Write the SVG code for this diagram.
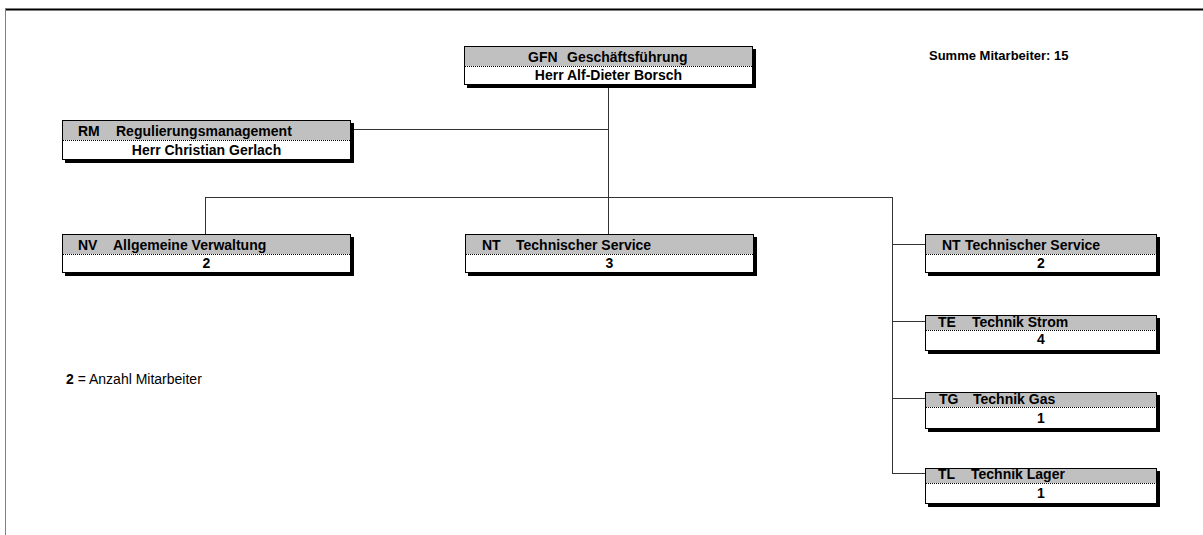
<svg xmlns="http://www.w3.org/2000/svg" width="1203" height="535" viewBox="0 0 1203 535">
<style>
text{font-family:"Liberation Sans",Arial,sans-serif;font-size:14px;font-weight:bold;fill:#000}
.shadow{fill:#000}
.body{fill:#fff;stroke:#000;stroke-width:1}
.head{fill:#c0c0c0}
.sep{stroke:#000;stroke-width:1;stroke-dasharray:1 1}
.c{text-anchor:middle}
.conn line{stroke:#333;stroke-width:1}
.leg{font-weight:normal;font-size:14px}
.sum{font-size:13px}
</style>
<rect width="1203" height="535" fill="#fff"/>
<line x1="5" y1="9.5" x2="1203" y2="9.5" stroke="#000" stroke-width="2"/>
<line x1="5.5" y1="9" x2="5.5" y2="535" stroke="#808080" stroke-width="1"/>

<g id="connectors" class="conn">
<line x1="350" y1="129.5" x2="608.5" y2="129.5"/>
<line x1="608.5" y1="84" x2="608.5" y2="234"/>
<line x1="205.5" y1="197.5" x2="892.5" y2="197.5"/>
<line x1="205.5" y1="197" x2="205.5" y2="234"/>
<line x1="892.5" y1="197" x2="892.5" y2="473.5"/>
<line x1="892" y1="244.5" x2="925" y2="244.5"/>
<line x1="892" y1="321.5" x2="925" y2="321.5"/>
<line x1="892" y1="398.5" x2="925" y2="398.5"/>
<line x1="892" y1="473.5" x2="925" y2="473.5"/>
</g>

<g id="GFN">
<rect class="shadow" x="467" y="49" width="289" height="39"/>
<rect class="body" x="464.5" y="46.5" width="288" height="38"/>
<rect class="head" x="465" y="47" width="287" height="19"/>
<line class="sep" x1="465" y1="66.5" x2="752" y2="66.5"/>
<text x="528" y="62">GFN</text><text x="567" y="62">Geschäftsführung</text>
<text class="c" x="608.5" y="80">Herr Alf-Dieter Borsch</text>
</g>

<g id="RM">
<rect class="shadow" x="65" y="123" width="289" height="40"/>
<rect class="body" x="62.5" y="120.5" width="288" height="39"/>
<rect class="head" x="63" y="121" width="287" height="19"/>
<line class="sep" x1="63" y1="140.5" x2="350" y2="140.5"/>
<text x="78" y="136">RM</text><text x="116" y="136">Regulierungsmanagement</text>
<text class="c" x="206.5" y="155">Herr Christian Gerlach</text>
</g>

<g id="NV">
<rect class="shadow" x="65" y="237" width="289" height="39"/>
<rect class="body" x="62.5" y="234.5" width="288" height="38"/>
<rect class="head" x="63" y="235" width="287" height="19"/>
<line class="sep" x1="63" y1="254.5" x2="350" y2="254.5"/>
<text x="78" y="250">NV</text><text x="113" y="250">Allgemeine Verwaltung</text>
<text class="c" x="206.5" y="268">2</text>
</g>

<g id="NT-mid">
<rect class="shadow" x="468" y="237" width="289" height="39"/>
<rect class="body" x="465.5" y="234.5" width="288" height="38"/>
<rect class="head" x="466" y="235" width="287" height="19"/>
<line class="sep" x1="466" y1="254.5" x2="753" y2="254.5"/>
<text x="482" y="250">NT</text><text x="516" y="250">Technischer Service</text>
<text class="c" x="609.5" y="268">3</text>
</g>

<g id="NT-right">
<rect class="shadow" x="928" y="237" width="232" height="39"/>
<rect class="body" x="925.5" y="234.5" width="231" height="38"/>
<rect class="head" x="926" y="235" width="230" height="19"/>
<line class="sep" x1="926" y1="254.5" x2="1156" y2="254.5"/>
<text x="942" y="250">NT</text><text x="965" y="250">Technischer Service</text>
<text class="c" x="1041" y="268">2</text>
</g>

<g id="TE">
<rect class="shadow" x="928" y="318" width="232" height="36"/>
<rect class="body" x="925.5" y="315.5" width="231" height="35"/>
<rect class="head" x="926" y="316" width="230" height="14"/>
<line class="sep" x1="926" y1="330.5" x2="1156" y2="330.5"/>
<text x="938" y="327">TE</text><text x="972" y="327">Technik Strom</text>
<text class="c" x="1041" y="344">4</text>
</g>

<g id="TG">
<rect class="shadow" x="928" y="395" width="232" height="37"/>
<rect class="body" x="925.5" y="392.5" width="231" height="36"/>
<rect class="head" x="926" y="393" width="230" height="14"/>
<line class="sep" x1="926" y1="407.5" x2="1156" y2="407.5"/>
<text x="939" y="404">TG</text><text x="973" y="404">Technik Gas</text>
<text class="c" x="1041" y="423">1</text>
</g>

<g id="TL">
<rect class="shadow" x="928" y="471" width="232" height="36"/>
<rect class="body" x="925.5" y="468.5" width="231" height="35"/>
<rect class="head" x="926" y="469" width="230" height="14"/>
<line class="sep" x1="926" y1="483.5" x2="1156" y2="483.5"/>
<text x="938" y="479">TL</text><text x="971" y="479">Technik Lager</text>
<text class="c" x="1041" y="498">1</text>
</g>

<g id="summe">
<text class="sum" x="929" y="60">Summe Mitarbeiter: 15</text>
</g>
<g id="legend">
<text class="leg" x="66" y="384"><tspan font-weight="bold">2</tspan> = Anzahl Mitarbeiter</text>
</g>
</svg>
